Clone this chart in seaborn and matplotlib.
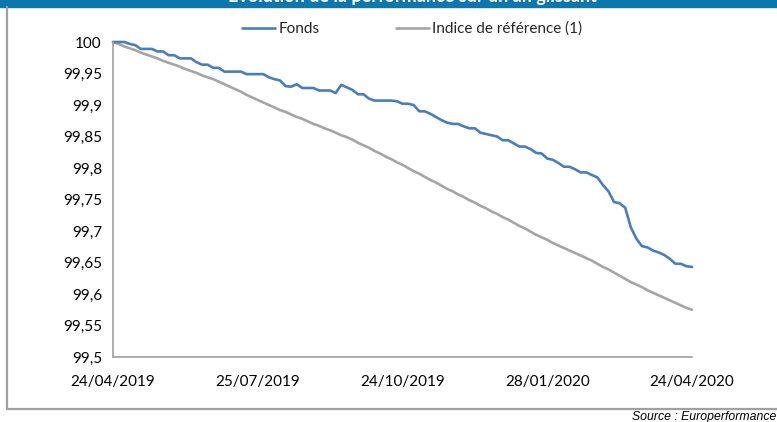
import numpy as np
import pandas as pd
import matplotlib
matplotlib.use("Agg")
import matplotlib.pyplot as plt
import seaborn as sns
from matplotlib.patches import Rectangle
from matplotlib.lines import Line2D

# values (about two points per week)
fonds = [
    100.000, 100.000, 100.000, 99.997, 99.995, 99.989, 99.989, 99.989, 99.985, 99.985,
    99.979, 99.979, 99.974, 99.974, 99.974, 99.968, 99.964, 99.964, 99.959, 99.959,
    99.953, 99.953, 99.953, 99.953, 99.949, 99.949, 99.949, 99.949, 99.944, 99.941,
    99.939, 99.930, 99.929, 99.933, 99.927, 99.927, 99.927, 99.923, 99.923, 99.923,
    99.919, 99.932, 99.928, 99.924, 99.917, 99.917, 99.910, 99.907, 99.907, 99.907,
    99.907, 99.906, 99.902, 99.902, 99.900, 99.890, 99.890, 99.886, 99.881, 99.876,
    99.872, 99.870, 99.870, 99.866, 99.863, 99.863, 99.856, 99.854, 99.852, 99.850,
    99.844, 99.844, 99.839, 99.834, 99.834, 99.830, 99.824, 99.823, 99.815, 99.813,
    99.808, 99.802, 99.802, 99.798, 99.793, 99.793, 99.789, 99.785, 99.773, 99.763,
    99.746, 99.744, 99.737, 99.706, 99.688, 99.676, 99.674, 99.669, 99.666, 99.662,
    99.656, 99.648, 99.648, 99.644, 99.643,
]
indice = [
    100.000, 99.997, 99.993, 99.990, 99.987, 99.983, 99.980, 99.977, 99.974, 99.970,
    99.967, 99.964, 99.961, 99.957, 99.954, 99.951, 99.947, 99.944, 99.941, 99.937,
    99.933, 99.929, 99.925, 99.921, 99.916, 99.912, 99.908, 99.904, 99.900, 99.896,
    99.892, 99.889, 99.885, 99.881, 99.878, 99.874, 99.870, 99.867, 99.863, 99.860,
    99.856, 99.852, 99.849, 99.845, 99.840, 99.836, 99.832, 99.827, 99.823, 99.818,
    99.814, 99.809, 99.805, 99.800, 99.795, 99.791, 99.786, 99.781, 99.777, 99.772,
    99.767, 99.763, 99.758, 99.754, 99.749, 99.745, 99.740, 99.736, 99.731, 99.727,
    99.722, 99.718, 99.713, 99.708, 99.704, 99.699, 99.694, 99.690, 99.686, 99.681,
    99.677, 99.673, 99.669, 99.665, 99.661, 99.657, 99.653, 99.648, 99.643, 99.639,
    99.634, 99.629, 99.624, 99.619, 99.615, 99.611, 99.606, 99.602, 99.598, 99.594,
    99.590, 99.586, 99.582, 99.578, 99.575,
]
date_labels = ["24/04/2019", "25/07/2019", "24/10/2019", "28/01/2020", "24/04/2020"]
y_ticks = [99.5, 99.55, 99.6, 99.65, 99.7, 99.75, 99.8, 99.85, 99.9, 99.95, 100]
series_names = ["Fonds", "Indice de référence (1)"]
title = "Evolution de la performance sur un an glissant"
source = "Source : Europerformance"

n = len(fonds)
df = pd.DataFrame({
    "x": list(range(n)) * 2,
    "valeur": fonds + indice,
    "serie": [series_names[0]] * n + [series_names[1]] * n,
})

sns.set_theme(style="white")
plt.rcParams["font.family"] = ["Lato", "DejaVu Sans"]

blue = "#4A7EBB"
grey = "#A5A5A5"
axis_grey = "#A0A0A0"

fig = plt.figure(figsize=(7.77, 4.22), dpi=100)
ax = fig.add_axes([113 / 777, 1 - 357 / 422, (692 - 113) / 777, (357 - 42) / 422])

sns.lineplot(data=df, x="x", y="valeur", hue="serie",
             palette={series_names[0]: blue, series_names[1]: grey},
             hue_order=[series_names[1], series_names[0]],
             linewidth=1.9, legend=False, ax=ax)
for line in ax.lines:
    line.set_clip_on(False)

ax.set_xlim(0, n - 1)
ax.set_ylim(99.5, 100)
ax.set_xticks(np.linspace(0, n - 1, len(date_labels)))
ax.set_xticklabels(date_labels)
ax.set_yticks(y_ticks)
ax.set_yticklabels([f"{v:g}".replace(".", ",") for v in y_ticks])
ax.set_xlabel("")
ax.set_ylabel("")

for s in ["top", "right"]:
    ax.spines[s].set_visible(False)
for s in ["left", "bottom"]:
    ax.spines[s].set_color(axis_grey)
    ax.spines[s].set_linewidth(1.2)
ax.tick_params(axis="both", direction="inout", length=8, width=1, color=axis_grey,
               labelsize=11, labelcolor="black")
ax.tick_params(axis="x", pad=9)
ax.tick_params(axis="y", pad=4)

handles = [Line2D([], [], color=blue, lw=1.9), Line2D([], [], color=grey, lw=1.9)]
fig.legend(handles, series_names, loc="center", bbox_to_anchor=(412 / 777, 1 - 29 / 422),
           ncol=2, frameon=False, fontsize=11, handlelength=2.2, handletextpad=0.2,
           columnspacing=5.0)

# banner (title mostly cut off at the top edge, as in the source) and frame
fig.add_artist(Rectangle((0, 1 - 7 / 422), 1, 7 / 422, transform=fig.transFigure,
                         color="#0A78AE", zorder=0))
fig.text(412 / 777, 1 - 2 / 422, title, color="white", fontsize=13, fontweight="bold",
         ha="center", va="baseline")
fig.add_artist(Line2D([7 / 777, 7 / 777], [1 - 7 / 422, 1 - 409 / 422],
                      transform=fig.transFigure, color=axis_grey, lw=1.6))
fig.add_artist(Line2D([7 / 777, 1], [1 - 409 / 422, 1 - 409 / 422],
                      transform=fig.transFigure, color=axis_grey, lw=1.6))
fig.text(632 / 777, 1 - 417 / 422, source, family="Liberation Sans", style="italic",
         fontsize=8.8, ha="left", va="center", color="black")

fig.savefig("out.png", dpi=100)
